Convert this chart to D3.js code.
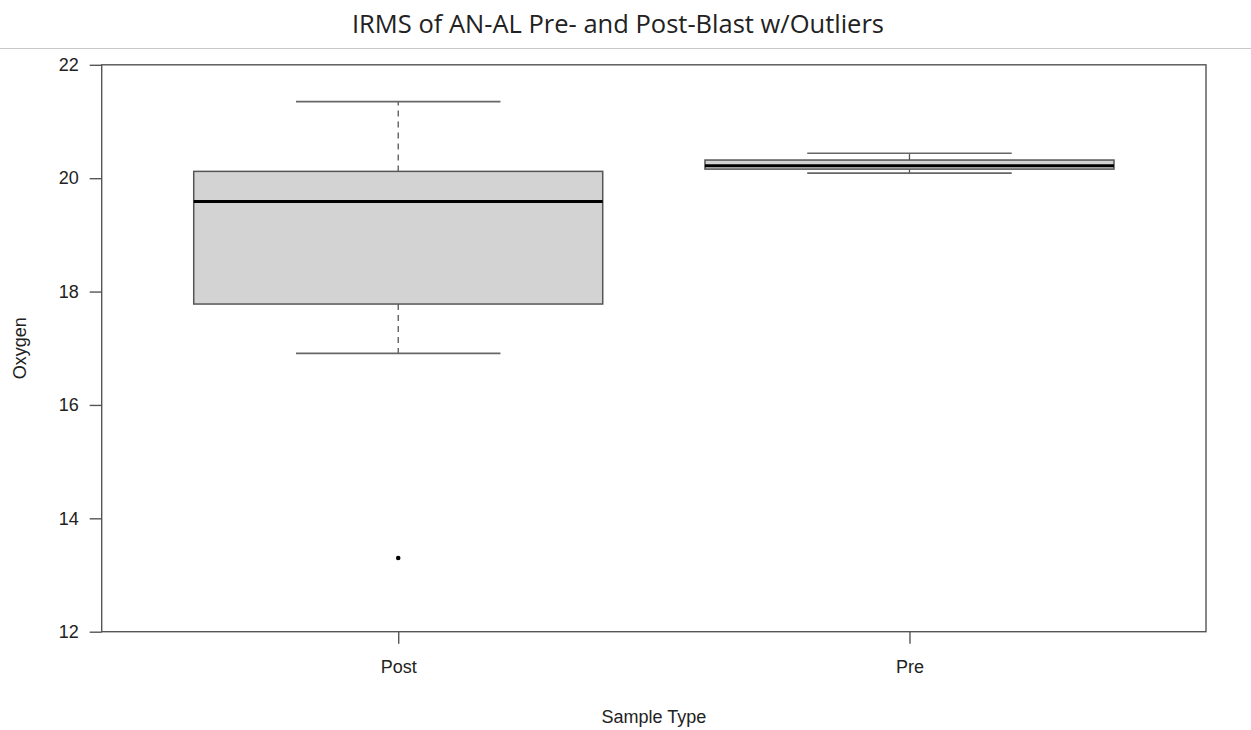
<!DOCTYPE html>
<html><head><meta charset="utf-8">
<script src="https://cdn.jsdelivr.net/npm/d3@7"></script>
<style>body{margin:0;background:#fff;} svg{display:block;}</style>
</head><body>
<script>
const categories = ["Post", "Pre"];
const whiskerLow = [16.91, 20.09];
const q1 = [17.78, 20.16];
const median = [19.59, 20.22];
const q3 = [20.12, 20.32];
const whiskerHigh = [21.35, 20.44];
const outliers = [[13.30], []];
const yTicks = [12, 14, 16, 18, 20, 22];

const W = 1251, H = 730;
const svg = d3.select("body").append("svg").attr("width", W).attr("height", H);

svg.append("text").attr("x", 618).attr("y", 33).attr("text-anchor", "middle")
  .attr("font-family", "Open Sans, Lato, sans-serif").attr("font-size", 25.5).attr("fill", "#222")
  .text("IRMS of AN-AL Pre- and Post-Blast w/Outliers");
svg.append("line").attr("x1", 0).attr("x2", W).attr("y1", 48.5).attr("y2", 48.5)
  .attr("stroke", "#c8c8c8").attr("stroke-width", 1);

const x = d3.scaleLinear().domain([0.42, 2.58]).range([101.7, 1206]);
const y = d3.scaleLinear().domain([12, 22]).range([631.7, 64.8]);
const font = "Liberation Sans, Arial, sans-serif";
const fs = 18;
const axisCol = "#555";

svg.append("rect").attr("x", x(0.42)).attr("y", y(22)).attr("width", x(2.58) - x(0.42))
  .attr("height", y(12) - y(22)).attr("fill", "none").attr("stroke", axisCol).attr("stroke-width", 1.4);

const yAxis = d3.axisLeft(y).tickValues(yTicks).tickSize(12).tickPadding(11).tickFormat(d3.format("d"));
const ya = svg.append("g").attr("transform", `translate(${x(0.42)},0)`).call(yAxis);
ya.select(".domain").remove();
ya.selectAll("line").attr("stroke", axisCol).attr("stroke-width", 1.4);
ya.selectAll("text").attr("font-family", font).attr("font-size", fs).attr("fill", "#222");

const xAxis = d3.axisBottom(x).tickValues([1, 2]).tickSize(12).tickPadding(17)
  .tickFormat((d) => categories[d - 1]);
const xa = svg.append("g").attr("transform", `translate(0,${y(12)})`).call(xAxis);
xa.select(".domain").remove();
xa.selectAll("line").attr("stroke", axisCol).attr("stroke-width", 1.4);
xa.selectAll("text").attr("font-family", font).attr("font-size", fs).attr("fill", "#222");

svg.append("text").attr("x", x(1.5)).attr("y", 723).attr("text-anchor", "middle")
  .attr("font-family", font).attr("font-size", fs).attr("fill", "#222").text("Sample Type");
svg.append("text").attr("transform", `translate(26,${y(17)}) rotate(-90)`).attr("text-anchor", "middle")
  .attr("font-family", font).attr("font-size", fs).attr("fill", "#222").text("Oxygen");

const boxCol = "#555";
categories.forEach((c, i) => {
  const cx = x(i + 1);
  const bw = x(i + 1.4) - x(i + 1);
  const cw = x(i + 1.2) - x(i + 1);
  const g = svg.append("g");
  g.append("line").attr("x1", cx).attr("x2", cx).attr("y1", y(q3[i])).attr("y2", y(whiskerHigh[i]))
    .attr("stroke", boxCol).attr("stroke-width", 1.3).attr("stroke-dasharray", "6,5");
  g.append("line").attr("x1", cx).attr("x2", cx).attr("y1", y(q1[i])).attr("y2", y(whiskerLow[i]))
    .attr("stroke", boxCol).attr("stroke-width", 1.3).attr("stroke-dasharray", "6,5");
  [whiskerHigh[i], whiskerLow[i]].forEach(v => {
    g.append("line").attr("x1", cx - cw).attr("x2", cx + cw).attr("y1", y(v)).attr("y2", y(v))
      .attr("stroke", "#666").attr("stroke-width", 1.6);
  });
  g.append("rect").attr("x", cx - bw).attr("width", 2 * bw).attr("y", y(q3[i]))
    .attr("height", y(q1[i]) - y(q3[i])).attr("fill", "#d3d3d3").attr("stroke", boxCol).attr("stroke-width", 1.5);
  g.append("line").attr("x1", cx - bw).attr("x2", cx + bw).attr("y1", y(median[i])).attr("y2", y(median[i]))
    .attr("stroke", "#000").attr("stroke-width", 3);
  outliers[i].forEach(v => {
    g.append("circle").attr("cx", cx).attr("cy", y(v)).attr("r", 2.3).attr("fill", "#000");
  });
});
</script>
</body></html>
